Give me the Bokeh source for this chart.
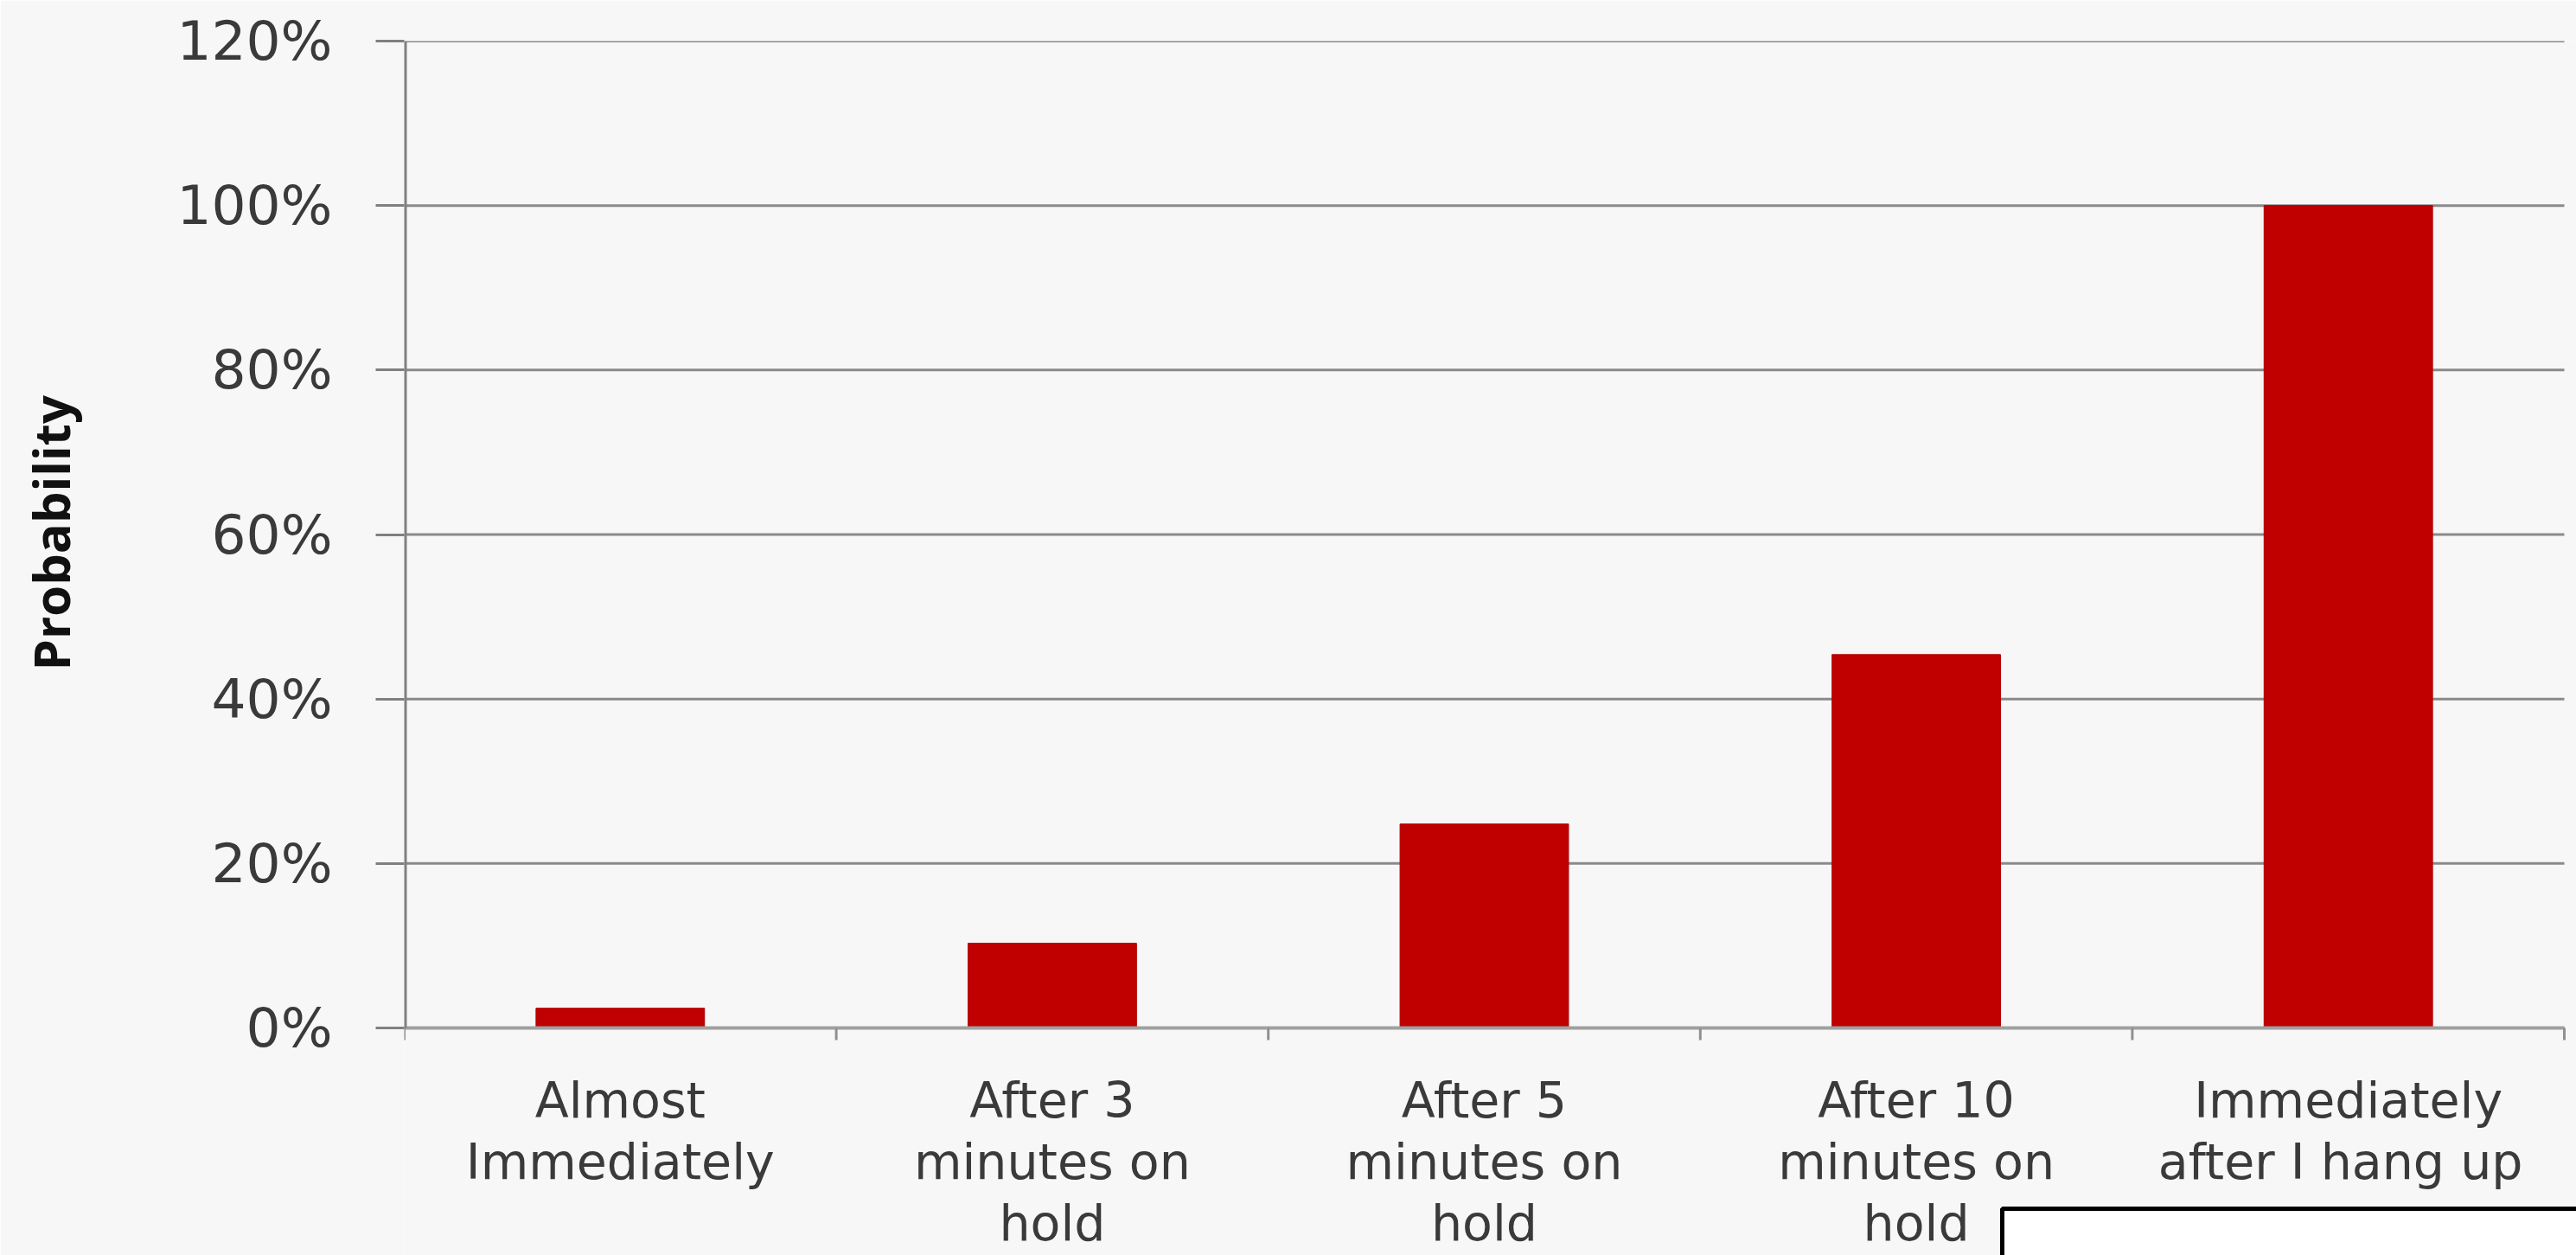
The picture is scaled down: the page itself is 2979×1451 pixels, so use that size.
from bokeh.plotting import figure
from bokeh.models import FixedTicker, Title
from bokeh.core.properties import value
from bokeh.embed import file_html
from bokeh.resources import INLINE

# ---- data ----
categories = [
    "Almost\nImmediately",
    "After 3\nminutes on\nhold",
    "After 5\nminutes on\nhold",
    "After 10\nminutes on\nhold",
    "Immediately\nafter I hang  up",
]
values = [2.4, 10.3, 24.8, 45.4, 100.0]
y_ticks = [0, 20, 40, 60, 80, 100, 120]
y_tick_labels = ["0%", "20%", "40%", "60%", "80%", "100%", "120%"]
y_title = "Probability"

# ---- geometry (pixels) ----
W, H = 2979, 1451
LEFT, TOP = 467, 47            # frame left / 120% line
PLOT_BOTTOM = 1188             # 0% line
PLOT_RIGHT = 2965              # end of category axis
YMAX = 120
n = len(categories)
px_per_y = (PLOT_BOTTOM - TOP) / YMAX
px_per_x = (PLOT_RIGHT - LEFT) / n
y_start = -(H - PLOT_BOTTOM) / px_per_y
x_end = n + (W - PLOT_RIGHT) / px_per_x

centers = [i + 0.5 for i in range(n)]
bounds = list(range(n + 1))

BG = "#f7f7f7"
GRID = "#8a8a8a"
TXT = "#3a3a3a"

p = figure(
    frame_width=W - LEFT, frame_height=H - TOP,
    x_range=(0, x_end), y_range=(y_start, YMAX),
    output_backend="svg", toolbar_location=None,
    min_border_left=LEFT, min_border_right=0,
    min_border_top=TOP, min_border_bottom=0,
    x_axis_location=None,
    background_fill_color=BG, border_fill_color=BG,
    outline_line_color=None,
)

# horizontal grid lines, only across the category area
p.xgrid.grid_line_color = None
p.ygrid.grid_line_color = None
p.segment(x0=[0] * len(y_ticks), y0=y_ticks, x1=[n] * len(y_ticks), y1=y_ticks,
          line_color=GRID, line_width=3)

# bars
p.vbar(x=centers, top=values, width=0.39, bottom=0,
       fill_color="#c00000", line_color="#b00000", line_width=1)

# category axis (drawn inside the extended frame)
p.segment(x0=[0], y0=[0], x1=[n], y1=[0], line_color="#a0a0a0", line_width=4)
tick_len = 14 / px_per_y
p.segment(x0=bounds, y0=[0] * len(bounds), x1=bounds, y1=[-tick_len] * len(bounds),
          line_color="#909090", line_width=3)
label_top = -(1238 - PLOT_BOTTOM) / px_per_y
p.text(x=centers, y=[label_top] * n, text=categories,
       text_font=value("DejaVu Sans"), text_font_size=value("57px"),
       text_align="center", text_baseline="top", text_line_height=1.08,
       text_color=TXT)

# value axis line (from 0% to 120%)
p.segment(x0=[0], y0=[0], x1=[0], y1=[YMAX], line_color="#808080", line_width=6)

# y axis
p.yaxis.ticker = FixedTicker(ticks=y_ticks)
p.yaxis.major_label_overrides = {t: l for t, l in zip(y_ticks, y_tick_labels)}
p.yaxis.major_label_text_font = "DejaVu Sans"
p.yaxis.major_label_text_font_size = "63px"
p.yaxis.major_label_text_color = TXT
p.yaxis.major_label_standoff = 50
p.yaxis.major_tick_out = 33
p.yaxis.major_tick_in = 0
p.yaxis.minor_tick_line_color = None
p.yaxis.major_tick_line_color = "#808080"
p.yaxis.major_tick_line_width = 3
p.yaxis.axis_line_color = None
# blank spacer label that pushes the value-axis title outward
p.yaxis.axis_label = " "
p.yaxis.axis_label_text_font_size = "1px"
p.yaxis.axis_label_standoff = 100

# value-axis title, placed beside the 0%..120% span
title = Title(text=y_title, align="left", offset=H - 775,
              standoff=0,
              text_font="Open Sans", text_font_style="bold",
              text_font_size="58px", text_color="#111111")
p.add_layout(title, "left")

# white box in the lower right corner
box_left = (2315 - LEFT) / px_per_x
box_top = -(1397 - PLOT_BOTTOM) / px_per_y
p.quad(left=[box_left], right=[x_end + 1], top=[box_top], bottom=[y_start - 5],
       fill_color="white", line_color="black", line_width=5)

open("out.html", "w").write(file_html(p, INLINE))
